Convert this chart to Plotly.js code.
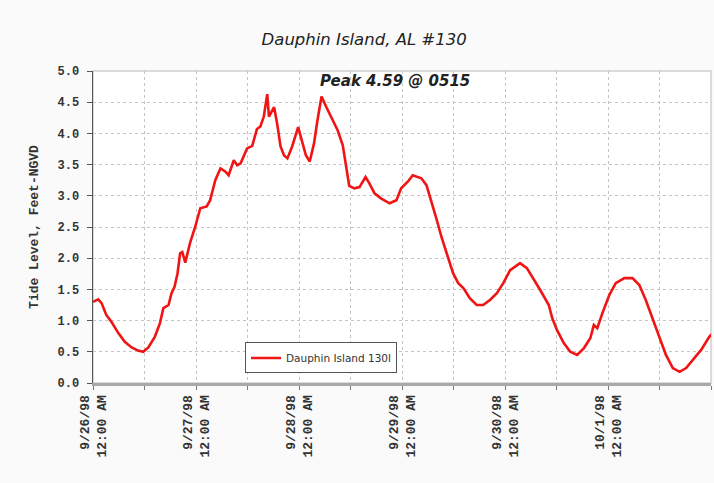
<!DOCTYPE html>
<html>
<head>
<meta charset="utf-8">
<script src="https://cdn.plot.ly/plotly-3.0.1.min.js"></script>
<style>html,body{margin:0;padding:0;background:#fafafa;}</style>
</head>
<body>
<div id="chart" style="width:714px;height:483px;"></div>
<script>
// Hours since 9/26/98 12:00 AM
const hoursSinceStart = [0,1.2,2,3.1,4.3,5.9,7.4,9.0,10.5,11.7,12.9,14.4,15.6,16.4,17.6,18.3,19.0,19.7,20.3,20.8,21.5,22.6,23.8,25.0,26.5,27.3,28.5,29.7,30.8,31.6,32.8,33.6,34.4,35.9,37.1,38.2,39.0,39.8,40.6,41.0,42.2,42.9,43.7,44.5,45.3,46.4,47.8,48.8,49.6,50.5,51.5,52.3,53.25,54.3,55.4,57.0,58.2,58.9,59.7,60.9,62.1,63.5,64.4,65.6,67.1,69.1,70.7,71.8,73.4,74.5,76.5,77.7,78.9,80.0,81.2,82.4,83.9,85.1,86.3,87.8,89.4,90.9,92.5,94.1,95.6,97.2,99.5,101.1,102.6,104.2,106.2,107.0,108.1,109.7,111.2,112.8,114.4,115.9,116.7,117.5,118.7,120.3,121.8,123.8,125.7,127.3,128.8,130.4,132.0,133.5,135.1,136.7,138.2,139.7,141.7,143.6,144.4];
const tideLevel = [1.30,1.34,1.28,1.09,0.98,0.80,0.66,0.57,0.52,0.50,0.57,0.74,0.96,1.20,1.25,1.44,1.54,1.76,2.08,2.10,1.93,2.24,2.50,2.80,2.83,2.93,3.25,3.44,3.39,3.33,3.57,3.49,3.52,3.76,3.80,4.07,4.11,4.27,4.63,4.27,4.42,4.16,3.79,3.65,3.60,3.79,4.10,3.84,3.65,3.55,3.84,4.21,4.59,4.43,4.27,4.05,3.81,3.52,3.16,3.12,3.14,3.30,3.20,3.04,2.96,2.88,2.93,3.12,3.23,3.33,3.28,3.17,2.91,2.64,2.34,2.08,1.76,1.60,1.52,1.36,1.25,1.25,1.33,1.44,1.60,1.81,1.92,1.84,1.68,1.49,1.25,1.04,0.85,0.64,0.50,0.45,0.56,0.72,0.93,0.88,1.12,1.41,1.60,1.68,1.68,1.57,1.33,1.04,0.74,0.45,0.24,0.18,0.24,0.37,0.53,0.74,0.80];
const tickHours = [0,12,24,36,48,60,72,84,96,108,120,132,144];
const tickLabels = ["9/26/98<br>12:00 AM","","9/27/98<br>12:00 AM","","9/28/98<br>12:00 AM","","9/29/98<br>12:00 AM","","9/30/98<br>12:00 AM","","10/1/98<br>12:00 AM","",""];
const seriesName = "Dauphin Island 130l";
const chartTitle = "Dauphin Island, AL #130";
const peakNote = "Peak 4.59 @ 0515";

const base = Date.UTC(1998, 8, 26, 0, 0, 0);
function toDate(h) {
  const d = new Date(base + h * 3600000);
  return d.toISOString().replace('T', ' ').substring(0, 19);
}
const xDates = hoursSinceStart.map(toDate);
const tickDates = tickHours.map(toDate);

const mono = "Liberation Mono, Courier New, monospace";
const sans = "DejaVu Sans, Arial, sans-serif";

const trace = {
  x: xDates, y: tideLevel, type: 'scatter', mode: 'lines', name: seriesName,
  line: {color: '#f01414', width: 2.6}
};

const layout = {
  width: 714, height: 483,
  paper_bgcolor: '#fafafa', plot_bgcolor: '#ffffff',
  margin: {l: 93, r: 3, t: 71, b: 100},
  title: {text: chartTitle, x: 0.51, xanchor: 'center', y: 0.918, yanchor: 'middle',
    font: {family: sans, size: 16.5, color: '#222', style: 'italic'}},
  showlegend: true,
  legend: {x: 0.246, y: 0.13, xanchor: 'left', yanchor: 'top', bgcolor: '#ffffff',
    bordercolor: '#555', borderwidth: 1,
    font: {family: sans, size: 10.5, color: '#333'},
    tracegroupgap: 0, itemwidth: 30},
  xaxis: {
    type: 'date', range: [toDate(0), toDate(144)],
    tickvals: tickDates, ticktext: tickLabels, tickangle: -90,
    ticks: 'outside', ticklen: 4, tickcolor: '#777',
    tickfont: {family: mono, size: 13, color: '#333', weight: 'bold'},
    showgrid: true, gridcolor: '#c4c4c4', griddash: 'dot', gridwidth: 1,
    showline: true, linecolor: '#a8a8a8', linewidth: 3,
    zeroline: false, fixedrange: true
  },
  yaxis: {
    range: [0, 5], dtick: 0.5, tickformat: '.1f',
    ticks: 'outside', ticklen: 5, tickcolor: '#555', ticklabelstandoff: 5,
    tickfont: {family: mono, size: 12, color: '#333', weight: 'bold'},
    showgrid: true, gridcolor: '#c4c4c4', griddash: 'dot', gridwidth: 1,
    showline: true, linecolor: '#555', linewidth: 1.5,
    zeroline: false,
    title: {text: 'Tide Level, Feet-NGVD', standoff: 16,
      font: {family: mono, size: 13, color: '#333', weight: 'bold'}}
  },
  shapes: [{type: 'rect', xref: 'paper', yref: 'paper', x0: 0, x1: 1, y0: 0, y1: 1,
    line: {color: '#d0d0d0', width: 1.5}, layer: 'below'}],
  annotations: [{text: peakNote, xref: 'x', yref: 'y', x: toDate(70.3), y: 4.84,
    showarrow: false, xanchor: 'center', yanchor: 'middle',
    font: {family: sans, size: 15, color: '#222', style: 'italic', weight: 'bold'}}]
};

Plotly.newPlot('chart', [trace], layout, {displayModeBar: false, staticPlot: true});
</script>
</body>
</html>
